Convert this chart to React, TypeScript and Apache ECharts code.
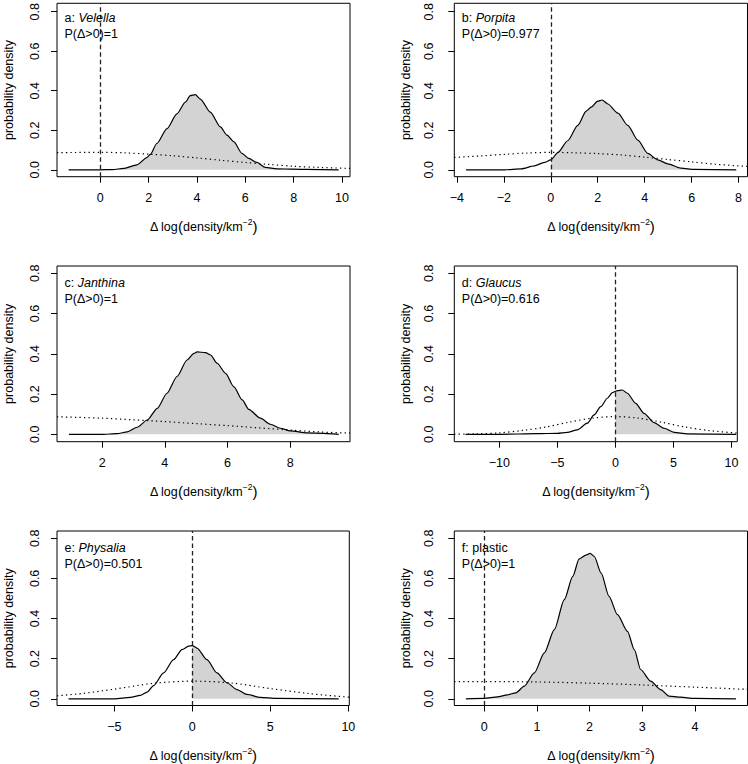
import React, { useEffect, useRef } from "react";
import * as echarts from "echarts";

// ---------- data ----------
// a: Velella
const aPostX = [-1.31, 0, 0.5, 0.97, 1.52, 1.93, 2.07, 2.34, 2.76, 3.17, 3.52, 3.72, 3.93, 4.14, 4.55, 4.97, 5.24, 5.52, 5.86, 6.14, 6.48, 6.83, 7.31, 8.0, 8.55, 9.86];
const aPostY = [0, 0, 0.001, 0.007, 0.025, 0.062, 0.078, 0.133, 0.208, 0.283, 0.342, 0.375, 0.38, 0.358, 0.292, 0.217, 0.175, 0.142, 0.083, 0.058, 0.037, 0.012, 0.005, 0.003, 0.002, 0];
const aPriorX = [-1.79, 0, 1, 2, 3, 4, 5, 6, 7, 8, 9, 10.33];
const aPriorY = [0.087, 0.088, 0.086, 0.079, 0.071, 0.06, 0.048, 0.037, 0.027, 0.018, 0.012, 0.007];

// b: Porpita
const bPostX = [-3.61, -1.97, -1.26, -0.7, -0.27, 0, 0.3, 0.72, 1.15, 1.51, 1.72, 2.0, 2.19, 2.43, 2.86, 3.28, 3.71, 4.13, 4.56, 4.99, 5.55, 6.12, 7.9];
const bPostY = [0, 0, 0.005, 0.02, 0.037, 0.05, 0.087, 0.147, 0.225, 0.297, 0.317, 0.347, 0.353, 0.333, 0.287, 0.225, 0.15, 0.083, 0.05, 0.03, 0.008, 0.002, 0];
const bPriorX = [-4.11, -3, -2, -1, 0, 1, 2, 3, 4, 5, 6, 7, 8.38];
const bPriorY = [0.062, 0.07, 0.078, 0.085, 0.088, 0.086, 0.082, 0.075, 0.064, 0.052, 0.04, 0.028, 0.017];

// c: Janthina
const cPostX = [0.94, 2, 2.48, 2.8, 3.12, 3.44, 3.76, 4.07, 4.39, 4.71, 4.93, 5.03, 5.3, 5.46, 5.67, 5.94, 6.2, 6.47, 6.68, 7.05, 7.37, 7.69, 8.01, 8.54, 9.55];
const cPostY = [0, 0, 0.003, 0.012, 0.035, 0.071, 0.129, 0.204, 0.287, 0.369, 0.402, 0.409, 0.406, 0.394, 0.353, 0.303, 0.237, 0.171, 0.124, 0.08, 0.05, 0.03, 0.017, 0.007, 0];
const cPriorX = [0.56, 2, 3, 4, 5, 6, 7, 8, 9, 9.91];
const cPriorY = [0.087, 0.08, 0.072, 0.063, 0.053, 0.043, 0.032, 0.021, 0.011, 0.006];

// d: Glaucus
const dPostX = [-12.9, -10, -6.72, -5, -4.14, -3.28, -2.41, -1.84, -1.26, -0.69, -0.26, 0, 0.17, 0.6, 1.03, 1.75, 2.47, 3.33, 4.2, 5.06, 6.2, 10.4];
const dPostY = [0, 0, 0.003, 0.005, 0.01, 0.022, 0.055, 0.096, 0.137, 0.179, 0.207, 0.213, 0.217, 0.22, 0.204, 0.154, 0.104, 0.058, 0.03, 0.01, 0.002, 0];
const dPriorX = [-13.87, -12, -10, -8, -6, -4, -2, 0, 2, 4, 6, 8, 10.5];
const dPriorY = [0.001, 0.002, 0.007, 0.019, 0.036, 0.06, 0.08, 0.088, 0.08, 0.06, 0.036, 0.019, 0.006];

// e: Physalia
const ePostX = [-7.93, -5, -3.97, -3.33, -2.9, -2.48, -1.84, -1.2, -0.66, -0.24, 0, 0.3, 0.94, 1.58, 2.22, 2.86, 3.5, 4.36, 5.43, 9.38];
const ePostY = [0, 0, 0.007, 0.017, 0.033, 0.066, 0.129, 0.195, 0.245, 0.262, 0.265, 0.253, 0.195, 0.129, 0.08, 0.046, 0.022, 0.007, 0.002, 0];
const ePriorX = [-8.67, -7, -5, -2.5, 0, 2.5, 5, 7.5, 10.06];
const ePriorY = [0.015, 0.027, 0.048, 0.077, 0.088, 0.079, 0.051, 0.026, 0.008];

// f: plastic
const fPostX = [-0.35, 0, 0.25, 0.44, 0.6, 0.76, 0.95, 1.14, 1.33, 1.52, 1.68, 1.8, 1.93, 2.01, 2.09, 2.22, 2.37, 2.53, 2.72, 2.85, 2.97, 3.16, 3.35, 3.51, 3.73, 3.99, 4.78];
const fPostY = [0, 0.002, 0.01, 0.02, 0.03, 0.063, 0.129, 0.229, 0.345, 0.494, 0.61, 0.696, 0.716, 0.725, 0.709, 0.626, 0.51, 0.419, 0.336, 0.245, 0.146, 0.088, 0.046, 0.013, 0.008, 0.002, 0];
const fPriorX = [-0.57, 0, 1, 2, 3, 4, 5];
const fPriorY = [0.086, 0.086, 0.084, 0.078, 0.069, 0.058, 0.047];

// tick labels
const xTicksA = [0, 2, 4, 6, 8, 10];
const xTicksB = [-4, -2, 0, 2, 4, 6, 8];
const xTicksC = [2, 4, 6, 8];
const xTicksD = [-10, -5, 0, 5, 10];
const xTicksE = [-5, 0, 5, 10];
const xTicksF = [0, 1, 2, 3, 4];
const yTicks = [0, 0.2, 0.4, 0.6, 0.8];

// panel texts
const panelLetters = ["a", "b", "c", "d", "e", "f"];
const panelNames = ["Velella", "Porpita", "Janthina", "Glaucus", "Physalia", "plastic"];
const panelItalic = [true, true, true, true, true, false];
const probLabels = ["P(Δ>0)=1", "P(Δ>0)=0.977", "P(Δ>0)=1", "P(Δ>0)=0.616", "P(Δ>0)=0.501", "P(Δ>0)=1"];
const showZeroLine = [true, true, false, true, true, true];

const postXs = [aPostX, bPostX, cPostX, dPostX, ePostX, fPostX];
const postYs = [aPostY, bPostY, cPostY, dPostY, ePostY, fPostY];
const priorXs = [aPriorX, bPriorX, cPriorX, dPriorX, ePriorX, fPriorX];
const priorYs = [aPriorY, bPriorY, cPriorY, dPriorY, ePriorY, fPriorY];
const xTicks = [xTicksA, xTicksB, xTicksC, xTicksD, xTicksE, xTicksF];

// ---------- layout (pixels) ----------
const LAYOUT = [
  { left: 57, top: 1.5, width: 293, height: 175.2, xMin: -1.79, xMax: 10.33, yMin: -0.035, yMax: 0.8425, col: 0 },
  { left: 454.3, top: 1.5, width: 293.2, height: 175.2, xMin: -4.11, xMax: 8.38, yMin: -0.035, yMax: 0.8425, col: 1 },
  { left: 57, top: 266, width: 293, height: 175.7, xMin: 0.56, xMax: 9.91, yMin: -0.0368, yMax: 0.836, col: 0 },
  { left: 454.3, top: 266, width: 283, height: 175.7, xMin: -13.87, xMax: 10.5, yMin: -0.0368, yMax: 0.836, col: 1 },
  { left: 57, top: 531, width: 292.3, height: 175, xMin: -8.67, xMax: 10.06, yMin: -0.0333, yMax: 0.836, col: 0 },
  { left: 454.3, top: 531, width: 293.2, height: 175, xMin: -0.57, xMax: 5.0, yMin: -0.0333, yMax: 0.836, col: 1 },
];

const FONT = "'Liberation Sans', Arial, Helvetica, sans-serif";
const FS = 12.5;

const fmtNum = (v: number) => (v < 0 ? "\u2212" + String(-v) : String(v));

function buildOption() {
  const grid: any[] = [];
  const xAxis: any[] = [];
  const yAxis: any[] = [];
  const series: any[] = [];
  const graphic: any[] = [];

  LAYOUT.forEach((L, i) => {
    grid.push({
      left: L.left,
      top: L.top,
      width: L.width,
      height: L.height,
      show: true,
      borderColor: "#000",
      borderWidth: 1,
      backgroundColor: "transparent",
      containLabel: false,
    });
    xAxis.push({
      type: "value",
      gridIndex: i,
      min: L.xMin,
      max: L.xMax,
      axisLine: { show: false, onZero: false },
      splitLine: { show: false },
      axisTick: { show: true, inside: false, length: 6, customValues: xTicks[i], lineStyle: { color: "#000", width: 1 } },
      axisLabel: {
        show: true,
        customValues: xTicks[i],
        margin: 15,
        color: "#000",
        fontSize: FS,
        fontFamily: FONT,
        formatter: (v: number) => fmtNum(v),
      },
      name: "{a|Δ log}{p|(}{a|density/km}{s|\u22122}{p|)}",
      nameLocation: "middle",
      nameGap: 41,
      nameTextStyle: {
        rich: {
          a: { fontSize: FS, fontFamily: FONT, color: "#000" },
          p: { fontSize: 15, fontFamily: FONT, color: "#000" },
          s: { fontSize: 8.5, fontFamily: FONT, color: "#000", padding: [0, 0, 9, 0] },
        },
      },
    });
    yAxis.push({
      type: "value",
      gridIndex: i,
      min: L.yMin,
      max: L.yMax,
      axisLine: { show: false, onZero: false },
      splitLine: { show: false },
      axisTick: { show: true, inside: false, length: 6, customValues: yTicks, lineStyle: { color: "#000", width: 1 } },
      axisLabel: {
        show: true,
        customValues: yTicks,
        rotate: 90,
        margin: L.col === 0 ? 16 : 19,
        color: "#000",
        fontSize: FS,
        fontFamily: FONT,
        formatter: (v: number) => v.toFixed(1),
      },
      name: "probability density",
      nameLocation: "middle",
      nameRotate: 90,
      nameGap: 42,
      nameTextStyle: { fontSize: FS, fontFamily: FONT, color: "#000" },
    });

    const px = postXs[i];
    const py = postYs[i];
    const post = px.map((x, k) => [x, py[k]]);
    const fill = post.filter((p) => p[0] >= 0);
    const prior = priorXs[i].map((x, k) => [x, priorYs[i][k]]);

    series.push({
      type: "line",
      xAxisIndex: i,
      yAxisIndex: i,
      data: fill,
      showSymbol: false,
      smooth: 0.25,
      smoothMonotone: "x",
      lineStyle: { width: 0, opacity: 0 },
      areaStyle: { color: "#d3d3d3", opacity: 1 },
      z: 1,
      silent: true,
    });
    series.push({
      type: "line",
      xAxisIndex: i,
      yAxisIndex: i,
      data: prior,
      showSymbol: false,
      smooth: 0.3,
      lineStyle: { color: "#000", width: 1.2, type: [1.3, 3.2] },
      z: 2,
      silent: true,
    });
    const postSeries: any = {
      type: "line",
      xAxisIndex: i,
      yAxisIndex: i,
      data: post,
      showSymbol: false,
      smooth: 0.25,
      smoothMonotone: "x",
      lineStyle: { color: "#000", width: 1.2 },
      z: 3,
      silent: true,
    };
    if (showZeroLine[i]) {
      postSeries.markLine = {
        silent: true,
        symbol: ["none", "none"],
        label: { show: false },
        lineStyle: { color: "#222", width: 1.3, type: [4.5, 3] },
        data: [{ xAxis: 0 }],
      };
    }
    series.push(postSeries);

    // panel annotations
    const tx = L.left + 7.5;
    graphic.push({
      type: "text",
      x: tx,
      y: L.top + 16.5,
      z: 10,
      style: {
        text: panelItalic[i]
          ? `{n|${panelLetters[i]}: }{it|${panelNames[i]}}`
          : `{n|${panelLetters[i]}: ${panelNames[i]}}`,
        rich: {
          n: { fontSize: FS, fontFamily: FONT, fill: "#000" },
          it: { fontSize: FS, fontFamily: FONT, fontStyle: "italic", fill: "#000" },
        },
        verticalAlign: "middle",
        align: "left",
      },
    });
    graphic.push({
      type: "text",
      x: tx,
      y: L.top + 32.5,
      z: 10,
      style: {
        text: probLabels[i],
        fontSize: FS,
        fontFamily: FONT,
        fill: "#000",
        verticalAlign: "middle",
        align: "left",
      },
    });
  });

  return {
    animation: false,
    backgroundColor: "#fff",
    grid,
    xAxis,
    yAxis,
    series,
    graphic,
  };
}

export default function App() {
  const ref = useRef<HTMLDivElement>(null);
  useEffect(() => {
    if (!ref.current) return;
    const chart = echarts.init(ref.current, undefined, { renderer: "svg" });
    chart.setOption(buildOption() as any);
    return () => chart.dispose();
  }, []);
  return (
    <div
      ref={ref}
      style={{ position: "fixed", left: 0, top: 0, width: 748, height: 764, background: "#fff" }}
    />
  );
}
